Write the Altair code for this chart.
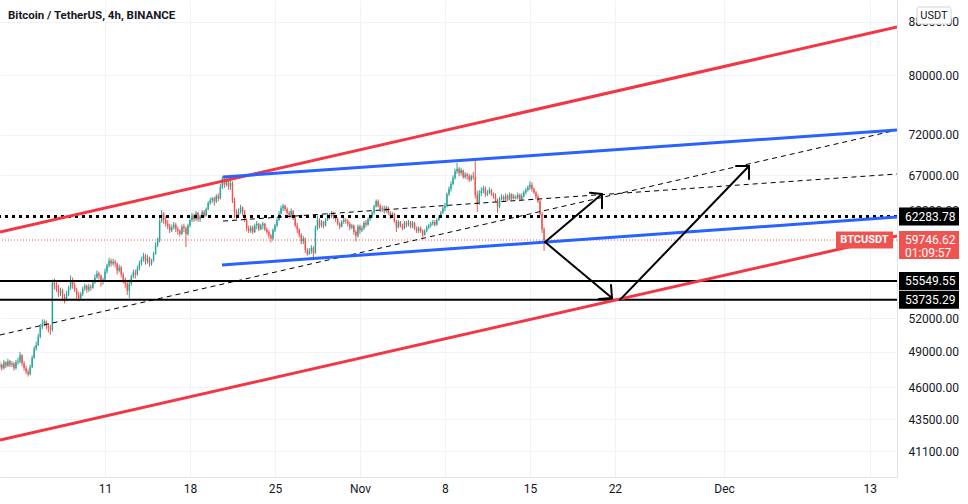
import altair as alt
import pandas as pd

TITLE = "Bitcoin / TetherUS, 4h, BINANCE"
FIRST_CANDLE = "2021-10-02T08:00:00Z"
FIRST_OPEN = 47700

# 4h closes, one row per day (Oct 2 starts at 08:00, Nov 16 ends at 04:00)
closes = [
    47900, 47600, 48100, 47800,
    48200, 47900, 48000, 47600, 48100, 48200,
    48700, 48000, 47600, 47300, 47100, 47700,
    48500, 49300, 49600, 50300, 51200, 51500,
    51700, 51300, 51100, 51000, 55400, 55100,
    54800, 54400, 54600, 54000, 53700, 54300,
    54900, 55600, 55200, 54700, 54200, 53900,
    54300, 54800, 55100, 54700, 55000, 54900,
    55400, 55900, 56300, 56100, 55500, 55700,
    56500, 57100, 57600, 57300, 57500, 57300,
    56600, 56900, 56200, 55700, 55300, 54600,
    55300, 56000, 56400, 56200, 56800, 57300,
    57700, 58100, 57500, 57900, 57300, 57600,
    58300, 59200, 59700, 61800, 62600, 61900,
    61500, 61200, 60800, 61100, 61400, 60900,
    60700, 60400, 61200, 61000, 60400, 61300,
    61900, 62400, 62000, 62700, 62000, 62300,
    62800, 62400, 63100, 63800, 64100, 64300,
    64000, 64600, 64300, 65600, 66600, 65900,
    66300, 65700, 66100, 64000, 62800, 62400,
    62800, 63300, 62800, 61900, 61000, 60700,
    61100, 60600, 61300, 61500, 60900, 61300,
    61500, 60900, 60600, 60200, 59900, 60800,
    61300, 61900, 62600, 63200, 63500, 63100,
    62700, 62300, 62900, 62100, 61300, 60900,
    60300, 59600, 59900, 58700, 58300, 58600,
    58900, 58400, 61000, 61900, 61300, 61700,
    61300, 61900, 62500, 62300, 62700, 62200,
    62000, 61500, 61200, 61700, 61900, 61800,
    61500, 61100, 61300, 60600, 60200, 61200,
    60800, 61000, 61600, 61400, 62000, 62300,
    62700, 63400, 64000, 63500, 63100, 63200,
    62900, 63300, 62700, 62300, 62600, 61800,
    61100, 61700, 61300, 61000, 61600, 61400,
    61700, 61200, 61600, 61000, 60700, 61000,
    60700, 60300, 60700, 61100, 61300, 61500,
    61700, 61400, 61900, 62200, 62700, 63200,
    63500, 64800, 65400, 66000, 66700, 67500,
    67800, 67300, 67600, 66800, 67100, 66900,
    66500, 66900, 66800, 64700, 63700, 64900,
    65200, 65500, 64800, 65000, 65300, 64800,
    64600, 64100, 63400, 64300, 64500, 64200,
    64600, 64200, 64800, 64300, 64500, 64400,
    64700, 64200, 64600, 65000, 65300, 65600,
    65900, 65400, 65000, 64500, 64000, 62600,
    60900, 59746.62,
]

highs = [
    48200, 48000, 48300, 48200,
    48400, 48300, 48200, 48100, 48300, 48500,
    49000, 48800, 48200, 47800, 47500, 47900,
    48700, 49500, 49900, 50600, 51500, 51900,
    51900, 51800, 51500, 51400, 55700, 55800,
    55500, 55200, 54900, 54800, 54300, 54600,
    55100, 56100, 55900, 55400, 54900, 54500,
    54500, 55000, 55300, 55200, 55300, 55200,
    55700, 56200, 56600, 56500, 56200, 55900,
    56800, 57300, 57900, 57800, 57800, 57700,
    57400, 57200, 57100, 56400, 55900, 55500,
    55700, 56200, 56700, 56700, 57100, 57600,
    58000, 58400, 58300, 58200, 58000, 57800,
    58500, 59500, 60000, 62100, 63000, 62800,
    62300, 61900, 61500, 61400, 61700, 61600,
    61200, 60900, 61400, 61500, 61200, 61500,
    62100, 62700, 62600, 62900, 62800, 62500,
    63000, 63000, 63300, 64000, 64400, 64500,
    64500, 64800, 64900, 66000, 66900, 67000,
    66700, 66500, 66600, 66300, 64400, 63100,
    63200, 63600, 63400, 63000, 62100, 61300,
    61300, 61300, 61500, 61800, 61600, 61500,
    61700, 61600, 61100, 60800, 60400, 61000,
    61500, 62100, 62900, 63500, 63700, 63600,
    63300, 62900, 63200, 63000, 62300, 61600,
    61000, 60500, 60200, 60000, 58900, 58900,
    59200, 59100, 61300, 62400, 62100, 61900,
    61800, 62100, 62700, 62700, 62900, 62800,
    62400, 62200, 61700, 61900, 62200, 62100,
    62000, 61700, 61500, 61400, 60800, 61400,
    61400, 61300, 61800, 61900, 62200, 62500,
    62900, 63600, 64200, 64200, 63700, 63500,
    63500, 63500, 63400, 62900, 62800, 62700,
    61900, 61900, 61800, 61500, 61800, 61800,
    61900, 61800, 61800, 61700, 61200, 61200,
    61200, 60900, 60900, 61300, 61500, 61700,
    61900, 61900, 62100, 62400, 62900, 63400,
    63800, 65000, 65700, 66300, 67000, 67800,
    68500, 68000, 67900, 67700, 67400, 67300,
    67200, 67100, 67400, 69000, 65200, 65300,
    65600, 65800, 65700, 65300, 65600, 65400,
    65000, 64900, 64300, 64500, 64800, 64700,
    64900, 64800, 65000, 64900, 64800, 64700,
    65000, 64900, 64900, 65200, 65500, 65800,
    66300, 66200, 65600, 65200, 64800, 64200,
    62800, 61100,
]

lows = [
    47500, 47400, 47500, 47600,
    47700, 47700, 47700, 47400, 47500, 47900,
    48000, 47800, 47400, 47100, 46900, 47000,
    47600, 48400, 49100, 49500, 50200, 51000,
    51300, 51000, 50700, 50500, 50800, 54700,
    54500, 54000, 54100, 53600, 53400, 53600,
    54100, 54700, 54800, 54500, 53700, 53600,
    53700, 54100, 54600, 54400, 54500, 54600,
    54800, 55300, 55800, 55700, 55000, 55200,
    55600, 56300, 56900, 57000, 57100, 56900,
    56200, 56400, 55900, 55300, 54900, 54200,
    53900, 55100, 55800, 55800, 56100, 56600,
    57100, 57500, 57200, 57300, 57000, 57100,
    57500, 58200, 59000, 59500, 61600, 61500,
    61200, 60900, 60500, 60600, 60900, 60600,
    60300, 60100, 60300, 60600, 59000, 60200,
    61100, 61700, 61700, 61800, 61700, 61700,
    62100, 62200, 62300, 63000, 63600, 63800,
    63500, 63800, 64000, 64200, 65400, 65500,
    65700, 65300, 65300, 63800, 62100, 62000,
    62200, 62600, 62400, 61700, 60700, 60500,
    60500, 60400, 60500, 60900, 60700, 60800,
    60900, 60700, 60400, 59900, 59500, 59700,
    60600, 61100, 61800, 62500, 62900, 62900,
    62500, 62100, 62100, 61900, 61100, 60500,
    60000, 59300, 59300, 58400, 58100, 58200,
    58300, 57900, 58300, 60800, 61000, 61100,
    61000, 61200, 61800, 62000, 62100, 62000,
    61700, 61300, 60900, 61100, 61500, 61500,
    61200, 60800, 60900, 60300, 59600, 60000,
    60400, 60600, 60800, 61100, 61300, 61800,
    62100, 62500, 63300, 63300, 62800, 62800,
    62600, 62700, 62500, 62000, 62100, 61600,
    60600, 61000, 61100, 60800, 60900, 61100,
    61200, 61000, 61000, 60800, 60500, 60500,
    60500, 60000, 60200, 60600, 60900, 61100,
    61300, 61200, 61300, 61800, 62100, 62600,
    62900, 63300, 64600, 65100, 65800, 66500,
    67200, 66900, 67000, 66600, 66600, 66500,
    66200, 66300, 66500, 64300, 62800, 63600,
    64600, 64900, 64500, 64600, 64800, 64600,
    64300, 63900, 62700, 63200, 64100, 64000,
    64000, 64000, 64100, 64100, 64200, 64200,
    64200, 64000, 64100, 64400, 64800, 65100,
    65300, 65100, 64800, 64200, 63800, 62400,
    60500, 58600,
]

# axes
x_domain = ["2021-10-02T08:25:00Z", "2021-12-15T05:44:00Z"]
x_ticks = ["2021-10-11", "2021-10-18", "2021-10-25", "2021-11-01", "2021-11-08",
           "2021-11-15", "2021-11-22", "2021-12-01", "2021-12-13"]
y_domain = [39250, 91440]
y_ticks = [41100, 43500, 46000, 49000, 52000, 63000, 67000, 72000, 80000, 88000]

# drawn trend lines
trend_names = ["red_top", "red_bottom", "blue_top", "blue_bottom", "dash_long", "dash_short"]
trend_t1 = ["2021-10-02T08:25:00Z", "2021-10-02T08:25:00Z", "2021-10-20T17:15:00Z",
            "2021-10-20T15:20:00Z", "2021-10-02T08:25:00Z", "2021-10-20T17:15:00Z"]
trend_p1 = [60600, 41910, 66810, 57160, 50490, 61790]
trend_t2 = ["2021-12-15T05:44:00Z"] * 6
trend_p2 = [87170, 60170, 72610, 62230, 72610, 67170]

# horizontal levels
level_dotted = [62283.78]
level_solid = [55549.55, 53735.29]
last_price = 59746.62
countdown = "01:09:57"
symbol = "BTCUSDT"
currency = "USDT"

# arrows: shafts and heads (start time, start price, end time, end price)
arrow_t1 = ["2021-11-16T06:00:00Z", "2021-11-16T06:00:00Z", "2021-11-22T10:00:00Z",
            "2021-11-20T22:30:00Z", "2021-11-20T22:30:00Z",
            "2021-11-21T18:20:00Z", "2021-11-21T18:20:00Z",
            "2021-12-03T01:10:00Z", "2021-12-03T01:10:00Z"]
arrow_p1 = [59530, 59530, 53735.29,
            64820, 64820,
            53910, 53910,
            68120, 68120]
arrow_t2 = ["2021-11-20T22:30:00Z", "2021-11-21T18:20:00Z", "2021-12-03T01:10:00Z",
            "2021-11-19T22:50:00Z", "2021-11-20T22:30:00Z",
            "2021-11-20T16:35:00Z", "2021-11-21T16:20:00Z",
            "2021-12-01T23:30:00Z", "2021-12-03T01:10:00Z"]
arrow_p2 = [64820, 53910, 68120,
            64970, 63200,
            53810, 55170,
            68120, 66570]


def ms(s):
    ts = pd.Timestamp(s)
    if ts.tzinfo is None:
        ts = ts.tz_localize("UTC")
    return int(ts.value // 1_000_000)


HOUR = 3600 * 1000
t_start = ms(FIRST_CANDLE)
opens = [FIRST_OPEN] + closes[:-1]
candles = pd.DataFrame({
    "t": [t_start + i * 4 * HOUR for i in range(len(closes))],
    "open": opens, "close": closes, "high": highs, "low": lows,
})
candles["t0"] = candles["t"] - int(1.4 * HOUR)
candles["t1"] = candles["t"] + int(1.4 * HOUR)
candles["dir"] = ["up" if c >= o else "down" for o, c in zip(opens, closes)]

trends = pd.DataFrame({
    "name": trend_names,
    "t1": [ms(s) for s in trend_t1], "p1": trend_p1,
    "t2": [ms(s) for s in trend_t2], "p2": trend_p2,
})
arrows = pd.DataFrame({
    "t1": [ms(s) for s in arrow_t1], "p1": arrow_p1,
    "t2": [ms(s) for s in arrow_t2], "p2": arrow_p2,
})

FONT = "Roboto"
TXT = "#131722"
GRID = "#f0f3fa"
RED = "#ef5350"
GREEN = "#26a69a"

xs = alt.Scale(type="utc", domain=[ms(x_domain[0]), ms(x_domain[1])])
ys = alt.Scale(type="log", domain=y_domain, nice=False)

xaxis = alt.Axis(
    values=[ms(t) for t in x_ticks],
    labelExpr="utcdate(datum.value) == 1 ? utcFormat(datum.value, '%b') : '' + utcdate(datum.value)",
    title=None, ticks=False, labelPadding=6, grid=True, gridColor=GRID,
    domainColor="#e0e3eb", labelColor=TXT, labelFont=FONT, labelFontSize=12,
    labelOverlap=False, labelFlush=False,
)
yaxis = alt.Axis(
    orient="right", values=y_ticks, format=".2f", title=None, ticks=False,
    labelPadding=11, grid=True, gridColor=GRID, domainColor="#e0e3eb",
    labelColor=TXT, labelFont=FONT, labelFontSize=12, labelOverlap=False,
    labelFlush=False,
)


def X(f):
    return alt.X(f, type="temporal", scale=xs, axis=xaxis)


def Y(f):
    return alt.Y(f, type="quantitative", scale=ys, axis=yaxis)


dir_color = alt.Color("dir:N", scale=alt.Scale(domain=["up", "down"], range=[GREEN, RED]), legend=None)

wicks = alt.Chart(candles).mark_rule(strokeWidth=1, clip=True).encode(
    x=X("t"), y=Y("low"), y2="high:Q", color=dir_color)
bodies = alt.Chart(candles).mark_rect(clip=True).encode(
    x=X("t0"), x2="t1:T", y=Y("open"), y2="close:Q", color=dir_color)

last_df = pd.DataFrame({"price": [last_price]})
price_line = alt.Chart(last_df).mark_rule(strokeWidth=1, strokeDash=[1, 2], color=RED).encode(y=Y("price"))

dotted = alt.Chart(pd.DataFrame({"price": level_dotted})).mark_rule(
    strokeWidth=3, strokeDash=[3, 4], color="black").encode(y=Y("price"))
solid = alt.Chart(pd.DataFrame({"price": level_solid})).mark_rule(
    strokeWidth=2, color="black").encode(y=Y("price"))


def trend_layer(names, **style):
    return alt.Chart(trends[trends["name"].isin(names)]).mark_rule(clip=True, **style).encode(
        x=X("t1"), x2="t2:T", y=Y("p1"), y2="p2:Q")


dash_layer = trend_layer(["dash_long", "dash_short"], strokeWidth=1, strokeDash=[5, 4], color="black")
red_layer = trend_layer(["red_top", "red_bottom"], strokeWidth=3, color="#f23645")
blue_layer = trend_layer(["blue_top", "blue_bottom"], strokeWidth=3, color="#2962ff")

arrow_layer = alt.Chart(arrows).mark_rule(strokeWidth=2, color="black", strokeCap="round", clip=True).encode(
    x=X("t1"), x2="t2:T", y=Y("p1"), y2="p2:Q")

# price-scale labels
boxes = pd.DataFrame({"price": level_dotted + level_solid,
                      "label": [f"{p:.2f}" for p in level_dotted + level_solid]})
box_marks = alt.Chart(boxes).mark_point(
    shape="M-1,-0.3H1V0.3H-1Z", size=3600, filled=True, opacity=1, strokeWidth=0
).encode(x=alt.value(929), y=Y("price"), fill=alt.value("black"))
box_text = alt.Chart(boxes).mark_text(
    align="left", baseline="middle", font=FONT, fontSize=12, color="white"
).encode(x=alt.value(905), y=Y("price"), text="label:N")

last_box = alt.Chart(last_df).mark_point(
    shape="M-1,-0.3H1V0.633H-1Z", size=3600, filled=True, opacity=1, strokeWidth=0
).encode(x=alt.value(929), y=Y("price"), fill=alt.value(RED))
last_df2 = pd.DataFrame({"price": [last_price], "label": [f"{last_price:.2f}"], "cd": [countdown],
                         "sym": [symbol]})
last_text = alt.Chart(last_df2).mark_text(
    align="left", baseline="middle", font=FONT, fontSize=12, color="white"
).encode(x=alt.value(905), y=Y("price"), text="label:N")
cd_text = alt.Chart(last_df2).mark_text(
    align="left", baseline="middle", font=FONT, fontSize=12, color="white", dy=13
).encode(x=alt.value(905), y=Y("price"), text="cd:N")
sym_box = alt.Chart(last_df2).mark_point(
    shape="M-1,-0.298H1V0.298H-1Z", size=3249, filled=True, opacity=1, strokeWidth=0
).encode(x=alt.value(864.5), y=Y("price"), fill=alt.value(RED))
sym_text = alt.Chart(last_df2).mark_text(
    align="center", baseline="middle", font=FONT, fontSize=11, fontWeight="bold", color="white"
).encode(x=alt.value(864.5), y=Y("price"), text="sym:N")

one = pd.DataFrame({"title": [TITLE], "cur": [currency]})
title_text = alt.Chart(one).mark_text(
    align="left", baseline="middle", font=FONT, fontSize=11.5, fontWeight="bold", color=TXT
).encode(x=alt.value(8), y=alt.value(16), text="title:N")
cur_box = alt.Chart(one).mark_rect(
    fill="white", stroke="#d1d4dc", strokeWidth=1, cornerRadius=2
).encode(x=alt.value(917), x2=alt.value(951), y=alt.value(7), y2=alt.value(24))
cur_text = alt.Chart(one).mark_text(
    align="center", baseline="middle", font=FONT, fontSize=11, color=TXT
).encode(x=alt.value(934), y=alt.value(15.5), text="cur:N")

chart = alt.layer(
    wicks, bodies, price_line, dotted, solid, dash_layer, red_layer, blue_layer, arrow_layer,
    box_marks, box_text, last_box, last_text, cd_text, sym_box, sym_text,
    title_text, cur_box, cur_text,
).properties(
    width=897, height=477,
    padding={"left": 0, "top": 0, "right": 71, "bottom": 27},
    autosize=alt.AutoSizeParams(type="none"),
    background="white",
).configure_view(strokeWidth=0)

chart.save("out.html", embed_options={"renderer": "svg", "actions": False})
